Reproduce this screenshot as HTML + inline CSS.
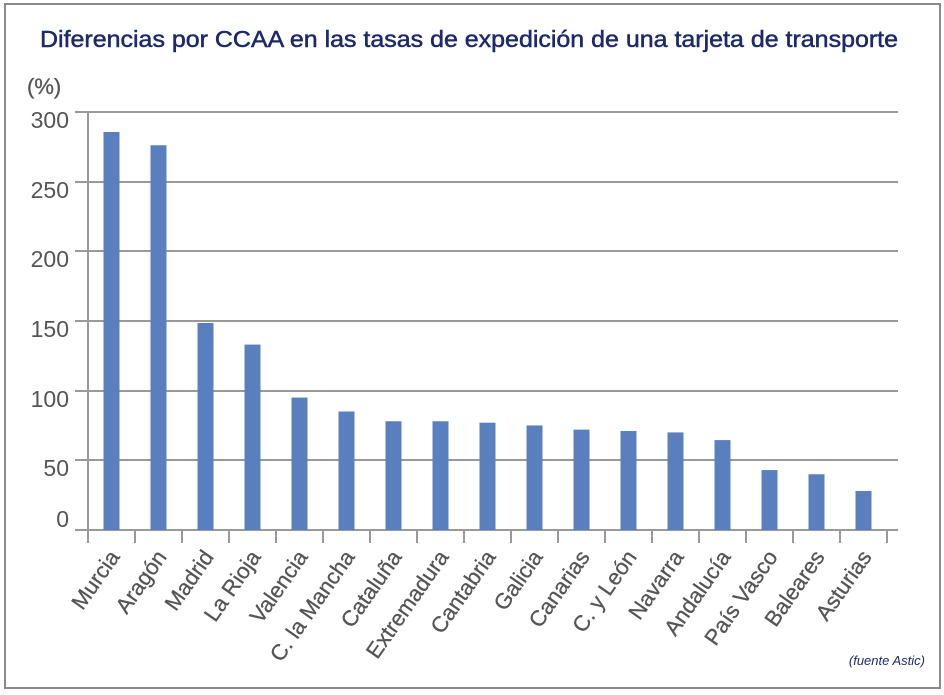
<!DOCTYPE html>
<html><head><meta charset="utf-8"><style>
html,body{margin:0;padding:0;background:#fff;}
svg{display:block;}
</style></head><body>
<svg width="944" height="695" xmlns="http://www.w3.org/2000/svg" font-family="Liberation Sans, sans-serif">
<rect x="5" y="4" width="935" height="684" fill="#fff" stroke="#8a8a8a" stroke-width="2"/>
<text x="40" y="47" font-size="23" fill="#1c2a6b" stroke="#1c2a6b" stroke-width="0.5" textLength="858" lengthAdjust="spacingAndGlyphs">Diferencias por CCAA en las tasas de expedición de una tarjeta de transporte</text>
<text x="27" y="94" font-size="22" fill="#555" stroke="#555" stroke-width="0.3">(%)</text>
<g stroke="#999" stroke-width="2">
<line x1="75" y1="112" x2="898" y2="112"/>
<line x1="75" y1="182" x2="898" y2="182"/>
<line x1="75" y1="251" x2="898" y2="251"/>
<line x1="75" y1="321" x2="898" y2="321"/>
<line x1="75" y1="391" x2="898" y2="391"/>
<line x1="75" y1="460" x2="898" y2="460"/>
<line x1="75" y1="530" x2="898" y2="530"/>
<line x1="88" y1="112" x2="88" y2="543"/>
</g>
<g font-size="23" fill="#555" text-anchor="end">
<text x="69" y="128">300</text><text x="69" y="198">250</text><text x="69" y="267">200</text>
<text x="69" y="337">150</text><text x="69" y="407">100</text><text x="69" y="476">50</text><text x="69" y="527">0</text>
</g>
<g id="bars" fill="#5a7fbf"></g>
<g id="ticks" stroke="#999" stroke-width="2"></g>
<g id="labels" font-size="22" fill="#555" stroke="#555" stroke-width="0.3" text-anchor="end"></g>
<text x="925" y="665" font-size="13" font-style="italic" fill="#1c2a6b" text-anchor="end">(fuente Astic)</text>
<script>
var names=["Murcia","Aragón","Madrid","La Rioja","Valencia","C. la Mancha","Cataluña","Extremadura","Cantabria","Galicia","Canarias","C. y León","Navarra","Andalucía","País Vasco","Baleares","Asturias"];
var vals=[285.5,276,148.5,133,95,85,78,78,77,75,72,71,70,64.5,43,40,28];
var ns="http://www.w3.org/2000/svg";
var b=document.getElementById("bars"),t=document.getElementById("ticks"),l=document.getElementById("labels");
for(var i=0;i<17;i++){
 var c=88+47*(i+0.5);
 var h=vals[i]*1.394;
 var r=document.createElementNS(ns,"rect");
 r.setAttribute("x",c-8);r.setAttribute("y",530-h);r.setAttribute("width",16);r.setAttribute("height",h);b.appendChild(r);
 var tx=document.createElementNS(ns,"text");
 tx.setAttribute("transform","translate("+(c+9)+",557) rotate(-55)");
 tx.textContent=names[i];l.appendChild(tx);
}
for(var i=0;i<=17;i++){
 var x=88+47*i;var ln=document.createElementNS(ns,"line");
 ln.setAttribute("x1",x);ln.setAttribute("x2",x);ln.setAttribute("y1",530);ln.setAttribute("y2",543);t.appendChild(ln);
}
</script>
</svg>
</body></html>
